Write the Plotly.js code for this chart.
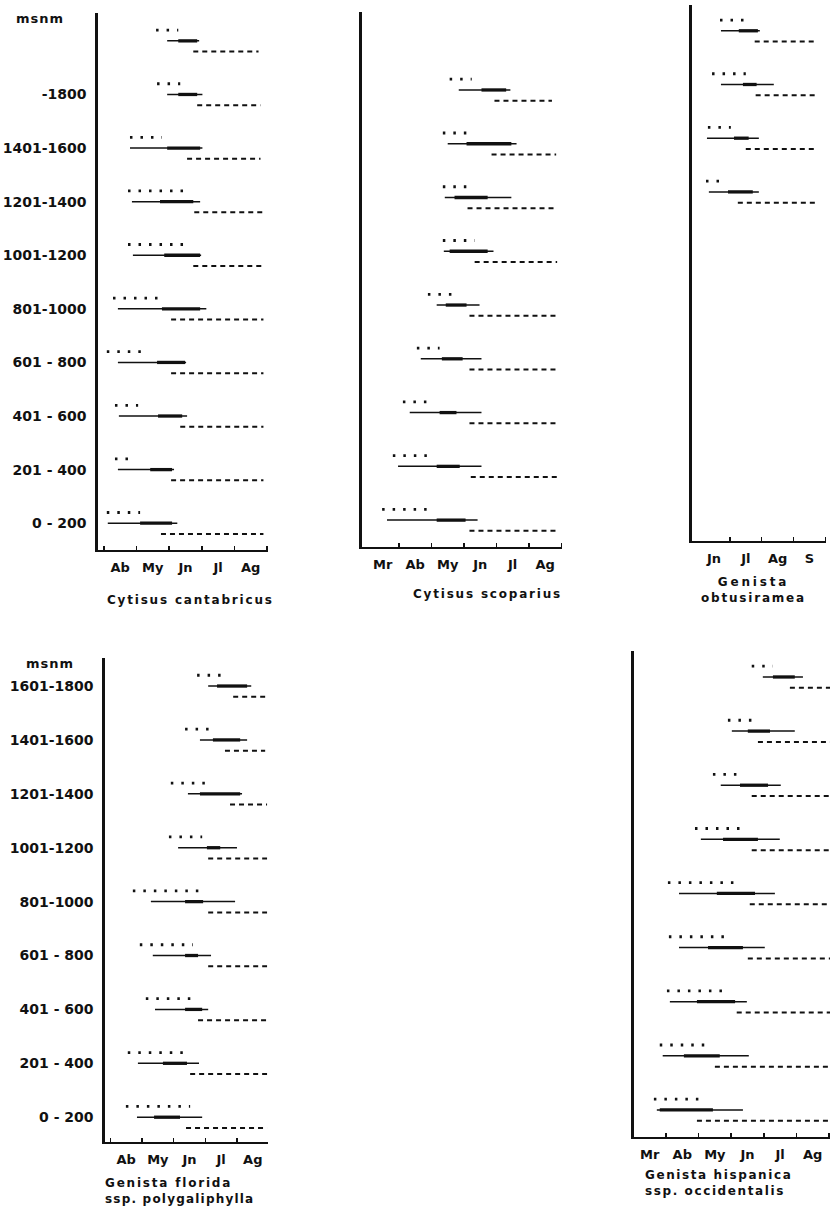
<!DOCTYPE html>
<html><head><meta charset="utf-8">
<script src="https://cdn.plot.ly/plotly-3.0.1.min.js"></script>
<style>body{margin:0;background:#fff}#chart{width:830px;height:1210px}</style>
</head><body><div id="chart"></div>
<script>
// ---- DATA (month scale: 3 = 1 March, 4 = 1 April, ... ) ----
// Cytisus cantabricus (rows top -> bottom)
const ccBand       = [9,8,7,6,5,4,3,2,1,0];
const ccLabels     = ['', '-1800', '1401-1600', '1201-1400', '1001-1200', '801-1000', '601 - 800', '401 - 600', '201 - 400', '0 - 200'];
const ccBudStart   = [5.60,5.63,4.80,4.74,4.74,4.28,4.09,4.34,4.34,4.09];
const ccBudEnd     = [6.28,6.34,5.78,6.65,6.58,5.82,5.23,5.05,4.95,5.11];
const ccFlowStart  = [5.94,5.94,4.80,4.86,4.89,4.43,4.43,4.46,4.43,4.12];
const ccFlowEnd    = [6.92,7.02,7.02,6.95,6.98,7.14,6.52,6.55,6.15,6.25];
const ccPeakStart  = [6.28,6.28,5.94,5.72,5.85,5.78,5.63,5.66,5.42,5.11];
const ccPeakEnd    = [6.86,6.86,6.95,6.74,6.95,6.95,6.49,6.40,6.09,6.09];
const ccFruitStart = [6.74,6.86,6.55,6.77,6.74,6.06,6.06,6.34,6.06,5.75];
const ccFruitEnd   = [8.74,8.80,8.80,8.86,8.86,8.89,8.89,8.89,8.89,8.89];
const ccMonths     = ['Ab','My','Jn','Jl','Ag'];
const ccMonthPos   = [4.5,5.5,6.5,7.5,8.5];

// Cytisus scoparius
const csBand       = [8,7,6,5,4,3,2,1,0];
const csBudStart   = [5.56,5.35,5.35,5.35,4.89,4.55,4.12,3.81,3.48];
const csBudEnd     = [6.24,6.30,6.30,6.33,5.62,5.25,4.95,5.01,5.07];
const csFlowStart  = [5.84,5.50,5.41,5.38,5.16,4.67,4.33,3.97,3.63];
const csFlowEnd    = [7.43,7.62,7.46,6.91,6.48,6.54,6.54,6.54,6.42];
const csPeakStart  = [6.54,6.08,5.71,5.56,5.44,5.32,5.25,5.16,5.16];
const csPeakEnd    = [7.30,7.46,6.73,6.73,6.08,5.96,5.77,5.87,6.05];
const csFruitStart = [6.94,6.85,6.11,6.33,6.17,6.17,6.17,6.21,6.17];
const csFruitEnd   = [8.71,8.84,8.84,8.87,8.93,8.93,8.93,8.93,8.93];
const csMonths     = ['Mr','Ab','My','Jn','Jl','Ag'];
const csMonthPos   = [3.5,4.5,5.5,6.5,7.5,8.5];

// Genista obtusiramea
const goBand       = [9,8,7,6];
const goBudStart   = [6.69,6.44,6.31,6.25];
const goBudEnd     = [7.47,7.50,7.03,6.78];
const goFlowStart  = [6.72,6.72,6.28,6.34];
const goFlowEnd    = [7.94,8.38,7.91,7.91];
const goPeakStart  = [7.28,7.41,7.13,6.94];
const goPeakEnd    = [7.88,7.84,7.59,7.72];
const goFruitStart = [7.78,7.81,7.50,7.25];
const goFruitEnd   = [9.72,9.72,9.72,9.72];
const goMonths     = ['Jn','Jl','Ag','S'];
const goMonthPos   = [6.5,7.5,8.5,9.5];

// Genista florida ssp. polygaliphylla
const gfBand       = [8,7,6,5,4,3,2,1,0];
const gfLabels     = ['1601-1800','1401-1600','1201-1400','1001-1200','801-1000','601 - 800','401 - 600','201 - 400','0 - 200'];
const gfBudStart   = [6.74,6.36,5.91,5.85,4.71,4.93,5.12,4.55,4.49];
const gfBudEnd     = [7.69,7.24,7.21,6.90,6.83,6.61,6.61,6.45,6.52];
const gfFlowStart  = [7.09,6.83,6.45,6.14,5.28,5.34,5.41,4.87,4.84];
const gfFlowEnd    = [8.45,8.32,8.16,8.00,7.94,7.18,7.09,6.80,6.90];
const gfPeakStart  = [7.37,7.24,6.83,7.05,6.36,6.36,6.36,5.66,5.38];
const gfPeakEnd    = [8.32,8.10,8.10,7.47,6.93,6.77,6.90,6.42,6.20];
const gfFruitStart = [7.88,7.62,7.78,7.09,7.09,7.09,6.77,6.52,6.39];
const gfFruitEnd   = [8.89,8.89,8.95,8.95,8.95,8.95,8.95,8.95,8.95];
const gfMonths     = ['Ab','My','Jn','Jl','Ag'];
const gfMonthPos   = [4.5,5.5,6.5,7.5,8.5];

// Genista hispanica ssp. occidentalis
const ghBand       = [8,7,6,5,4,3,2,1,0];
const ghBudStart   = [6.63,5.90,5.44,4.89,4.06,4.09,4.03,3.81,3.63];
const ghBudEnd     = [7.28,6.67,6.36,6.36,6.21,6.02,5.87,5.25,5.13];
const ghFlowStart  = [6.97,6.02,5.68,5.07,4.40,4.40,4.12,3.90,3.72];
const ghFlowEnd    = [8.20,7.95,7.52,7.49,7.34,7.03,6.48,6.54,6.36];
const ghPeakStart  = [7.28,6.51,6.27,5.75,5.56,5.29,4.95,4.55,3.81];
const ghPeakEnd    = [7.95,7.19,7.13,6.82,6.73,6.36,6.12,5.65,5.44];
const ghFruitStart = [7.80,6.82,6.63,6.63,6.57,6.51,6.17,5.50,4.95];
const ghFruitEnd   = [9.10,9.10,9.10,9.10,9.10,9.10,9.10,9.10,9.10];
const ghMonths     = ['Mr','Ab','My','Jn','Jl','Ag'];
const ghMonthPos   = [3.5,4.5,5.5,6.5,7.5,8.5];

// ---- LAYOUT / DRAWING ----
const W = 830, H = 1210, INK = '#111';
const FONT = 'DejaVu Sans';
const panels = [
  {band:ccBand, bs:ccBudStart, be:ccBudEnd, fs:ccFlowStart, fe:ccFlowEnd, ps:ccPeakStart, pe:ccPeakEnd, rs:ccFruitStart, re:ccFruitEnd,
   months:ccMonths, mpos:ccMonthPos, labels:ccLabels, px:[98,268], py:[13,550], xr:[3.82,9.03], yr:[-0.5,9.52], minor:[4,5,6,7,8,9]},
  {band:csBand, bs:csBudStart, be:csBudEnd, fs:csFlowStart, fe:csFlowEnd, ps:csPeakStart, pe:csPeakEnd, rs:csFruitStart, re:csFruitEnd,
   months:csMonths, mpos:csMonthPos, labels:null, px:[362,562], py:[12,547], xr:[2.86,9.02], yr:[-0.5,9.45], minor:[4,5,6,7,8,9]},
  {band:goBand, bs:goBudStart, be:goBudEnd, fs:goFlowStart, fe:goFlowEnd, ps:goPeakStart, pe:goPeakEnd, rs:goFruitStart, re:goFruitEnd,
   months:goMonths, mpos:goMonthPos, labels:null, px:[692,826], py:[5,541], xr:[5.81,10.02], yr:[-0.5,9.48], minor:[7,8,9,10]},
  {band:gfBand, bs:gfBudStart, be:gfBudEnd, fs:gfFlowStart, fe:gfFlowEnd, ps:gfPeakStart, pe:gfPeakEnd, rs:gfFruitStart, re:gfFruitEnd,
   months:gfMonths, mpos:gfMonthPos, labels:gfLabels, px:[105,268], py:[658,1142], xr:[3.83,8.98], yr:[-0.46,8.52], minor:[4,5,6,7,8,9]},
  {band:ghBand, bs:ghBudStart, be:ghBudEnd, fs:ghFlowStart, fe:ghFlowEnd, ps:ghPeakStart, pe:ghPeakEnd, rs:ghFruitStart, re:ghFruitEnd,
   months:ghMonths, mpos:ghMonthPos, labels:null, px:[634,830], py:[651,1137], xr:[3.02,9.03], yr:[-0.5,8.48], minor:[4,5,6,7,8,9]}
];

function segs(starts, ends, band, off) {
  const x = [], y = [];
  for (let i = 0; i < starts.length; i++) {
    x.push(starts[i], ends[i], null);
    y.push(band[i] + off, band[i] + off, null);
  }
  return {x, y};
}

const traces = [];
const layout = {
  width: W, height: H, margin: {l:0, r:0, t:0, b:0},
  paper_bgcolor: '#fff', plot_bgcolor: 'rgba(0,0,0,0)', showlegend: false,
  font: {family: FONT, color: INK},
  annotations: []
};

panels.forEach((p, k) => {
  const xa = 'x' + (k ? k + 1 : ''), ya = 'y' + (k ? k + 1 : '');
  const styles = [
    [p.bs, p.be, 0.2,  {width: 2.8, dash: '2.5px,8px'}],
    [p.rs, p.re, -0.2, {width: 2.0, dash: '5px,4px'}],
    [p.fs, p.fe, 0,    {width: 1.5}],
    [p.ps, p.pe, 0,    {width: 3.3}]
  ];
  styles.forEach(s => {
    const d = segs(s[0], s[1], p.band, s[2]);
    traces.push({type: 'scatter', mode: 'lines', x: d.x, y: d.y, xaxis: xa, yaxis: ya,
      line: Object.assign({color: INK}, s[3]), hoverinfo: 'skip', connectgaps: false});
  });
  const xname = 'xaxis' + (k ? k + 1 : ''), yname = 'yaxis' + (k ? k + 1 : '');
  layout[xname] = {
    domain: [p.px[0] / W, p.px[1] / W], range: p.xr, anchor: ya,
    showgrid: false, zeroline: false, showline: true, linecolor: INK, linewidth: 2,
    tickmode: 'array', tickvals: p.mpos, ticktext: p.months, ticks: '',
    tickfont: {family: FONT, size: 13, color: INK, weight: 'bold'}, ticklabelstandoff: 4,
    minor: {tickmode: 'array', tickvals: p.minor, ticks: 'inside', ticklen: 4, tickwidth: 1.5, tickcolor: INK, showgrid: false},
    fixedrange: true
  };
  layout[yname] = {
    domain: [1 - p.py[1] / H, 1 - p.py[0] / H], range: p.yr, anchor: xa,
    showgrid: false, zeroline: false, showline: true, linecolor: INK, linewidth: 2.6,
    tickmode: 'array', tickvals: p.labels ? p.band : [], ticktext: p.labels || [], ticks: '',
    showticklabels: !!p.labels,
    tickfont: {family: FONT, size: 14, color: INK, weight: 'bold'}, ticklabelstandoff: 6,
    fixedrange: true
  };
});

function ann(text, x, y, xanchor, size) {
  layout.annotations.push({text: text, xref: 'paper', yref: 'paper', x: x / W, y: 1 - y / H,
    xanchor: xanchor, yanchor: 'middle', showarrow: false, align: xanchor === 'left' ? 'left' : 'center',
    font: {family: FONT, size: size, color: INK, weight: 'bold'}});
}
const sp = (t, s) => '<span style="letter-spacing:' + s + 'px">' + t + '</span>';
ann(sp('msnm', 1), 14, 19, 'left', 13);
ann(sp('msnm', 1), 24, 663, 'left', 13);
ann(sp('Cytisus cantabricus', 1.8), 190, 600, 'center', 12);
ann(sp('Cytisus scoparius', 1.8), 487, 594, 'center', 12);
ann(sp('Genista', 2.8) + '<br>' + sp('obtusiramea', 1.8), 753, 590, 'center', 12);
ann(sp('Genista florida', 1.8) + '<br>' + sp('ssp. polygaliphylla', 1.2), 103, 1191, 'left', 12);
ann(sp('Genista hispanica', 1.6) + '<br>' + sp('ssp. occidentalis', 1.6), 643, 1183, 'left', 12);

Plotly.newPlot('chart', traces, layout, {staticPlot: true, displayModeBar: false});
</script></body></html>
